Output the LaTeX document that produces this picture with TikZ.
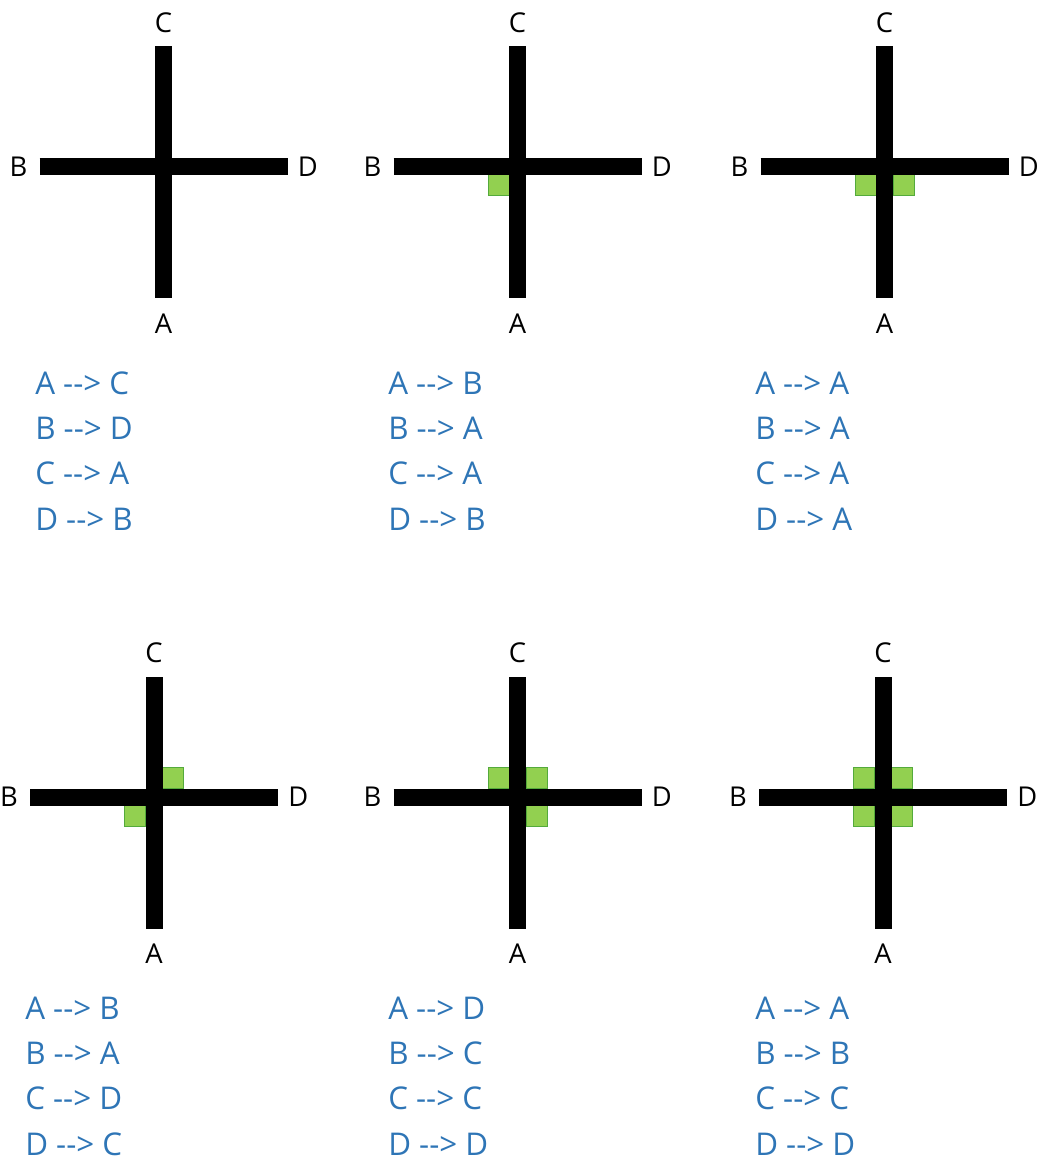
\documentclass[tikz,border=0pt]{standalone}
\usepackage{fontspec}
\newfontfamily\diagfont{Open Sans}
\usepackage{xcolor}
\usepackage{tikz}
\usetikzlibrary{positioning}
\definecolor{rulecol}{RGB}{46,117,182}
\definecolor{cellfill}{RGB}{146,208,80}
\definecolor{celldraw}{RGB}{84,170,60}

% cross of two roads with arm labels
\newcommand{\junction}[2]{%
  \begin{scope}[shift={#2}]
    \coordinate (#1-C) at (0,-120);
    \coordinate (#1-A) at (0,132);
    \coordinate (#1-B) at (-124,0);
    \coordinate (#1-D) at (124,0);
    \draw[bar] (#1-C) -- (#1-A);
    \draw[bar] (#1-B) -- (#1-D);
    \node[arm, above=10.5pt of #1-C] (#1-lc) {C};
    \node[arm, below=11.25pt of #1-A] (#1-la) {A};
    \node[arm, left=9pt of #1-B] (#1-lb) {B};
    \node[arm, right=7.5pt of #1-D] (#1-ld) {D};
  \end{scope}}
% occupied quadrants of the centre
\newcommand{\cells}[2]{%
  \begin{scope}[shift={#1}]
    \foreach \sx/\sy in {#2}
      \draw[cell] (8.5*\sx,8.5*\sy) rectangle (29.5*\sx,29.5*\sy);
  \end{scope}}

\begin{document}
\begin{tikzpicture}[
        x=0.75pt, y=-0.75pt,
        bar/.style={line width=12.75pt, black},
        cell/.style={draw=celldraw, fill=cellfill, line width=0.75pt},
        arm/.style={inner sep=0pt, text height=14.5pt, text depth=0pt,
                    font=\diagfont\fontsize{20.5}{20.5}\selectfont},
        rules/.style={anchor=base west, align=left, inner sep=0pt, text depth=0pt,
                      text=rulecol, font=\diagfont\fontsize{23.5}{34}\selectfont},
      ]
        \useasboundingbox (0,0) rectangle (1042,1162);

        % ── top row ──
        \junction{p1}{(163.5,166.5)}
        \node[rules] (p1-rules) at (35,530) {A --> C\\B --> D\\C --> A\\D --> B};

        \cells{(517.5,166.5)}{-1/1}
        \junction{p2}{(517.5,166.5)}
        \node[rules] (p2-rules) at (388,530) {A --> B\\B --> A\\C --> A\\D --> B};

        \cells{(884.5,166.5)}{-1/1, 1/1}
        \junction{p3}{(884.5,166.5)}
        \node[rules] (p3-rules) at (755,530) {A --> A\\B --> A\\C --> A\\D --> A};

        % ── bottom row ──
        \cells{(154,797)}{1/-1, -1/1}
        \junction{p4}{(154,797)}
        \node[rules] (p4-rules) at (25,1155) {A --> B\\B --> A\\C --> D\\D --> C};

        \cells{(517.5,797)}{-1/-1, 1/-1, 1/1}
        \junction{p5}{(517.5,797)}
        \node[rules] (p5-rules) at (388,1155) {A --> D\\B --> C\\C --> C\\D --> D};

        \cells{(883,797)}{-1/-1, 1/-1, -1/1, 1/1}
        \junction{p6}{(883,797)}
        \node[rules] (p6-rules) at (755,1155) {A --> A\\B --> B\\C --> C\\D --> D};
      \end{tikzpicture}
\end{document}
